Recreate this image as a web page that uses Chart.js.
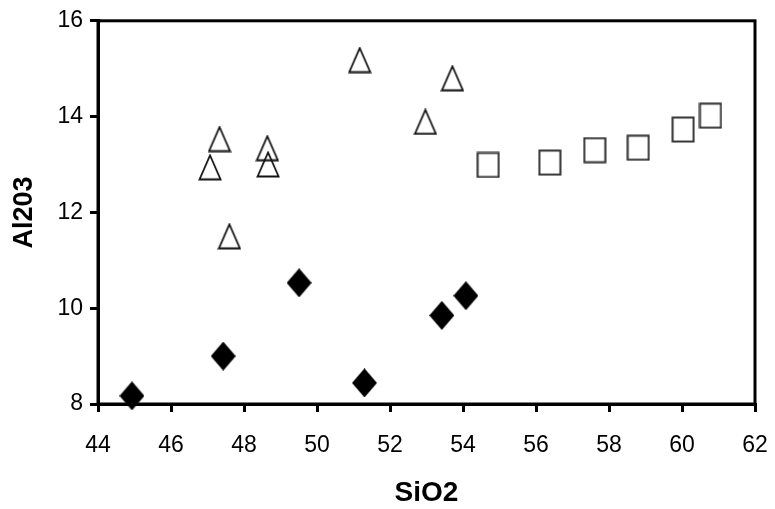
<!DOCTYPE html>
<html>
<head>
<meta charset="utf-8">
<title>SiO2 vs Al203</title>
<script src="https://cdn.jsdelivr.net/npm/chart.js@4/dist/chart.umd.min.js"></script>
<style>
    html, body { margin: 0; padding: 0; background: #fff; }
    #chart-wrap { width: 775px; height: 509px; }
</style>
</head>
<body>
<div id="chart-wrap">
    <canvas id="scatter-chart" width="775" height="509"></canvas>
</div>
<script>
// Chart data (SiO2, Al203)
const triangleSiO2 = [51.17, 52.97, 47.33, 47.07, 48.64, 48.66, 47.6, 53.71];
const triangleAl2O3 = [15.18, 13.89, 13.53, 12.94, 13.34, 13.0, 11.5, 14.8];

const squareSiO2 = [54.69, 56.38, 57.61, 58.8, 60.03, 60.78];
const squareAl2O3 = [12.99, 13.04, 13.3, 13.35, 13.73, 14.02];

const diamondSiO2 = [44.93, 47.43, 49.51, 51.3, 53.42, 54.08];
const diamondAl2O3 = [8.17, 9.0, 10.53, 8.44, 9.85, 10.26];

// Tick labels
const xTicks = [44, 46, 48, 50, 52, 54, 56, 58, 60, 62];
const yTicks = [8, 10, 12, 14, 16];

const FONT = '"Liberation Sans", Arial, sans-serif';

// Build points from the value arrays
function toPoints(xs, ys) {
    return xs.map((x, i) => ({ x: x, y: ys[i] }));
}

// Marker images (Excel style: slightly taller than wide)
function makeMarker(w, h, drawFn) {
    const c = document.createElement('canvas');
    c.width = w;
    c.height = h;
    drawFn(c.getContext('2d'), w, h);
    return c;
}

const triangleMarker = makeMarker(24, 27, (ctx, w, h) => {
    ctx.strokeStyle = '#111';
    ctx.lineWidth = 1.8;
    ctx.beginPath();
    ctx.moveTo(w / 2, 1.5);
    ctx.lineTo(w - 1.5, h - 1.5);
    ctx.lineTo(1.5, h - 1.5);
    ctx.closePath();
    ctx.stroke();
});

const squareMarker = makeMarker(24, 27, (ctx, w, h) => {
    ctx.strokeStyle = '#333';
    ctx.lineWidth = 2;
    ctx.strokeRect(1.5, 1.5, w - 3, h - 3);
});

const diamondMarker = makeMarker(25, 29, (ctx, w, h) => {
    ctx.fillStyle = '#000';
    ctx.beginPath();
    ctx.moveTo(w / 2, 0);
    ctx.lineTo(w, h / 2);
    ctx.lineTo(w / 2, h);
    ctx.lineTo(0, h / 2);
    ctx.closePath();
    ctx.fill();
});

// Frame around the plot area
const framePlugin = {
    id: 'frame',
    beforeDatasetsDraw(chart) {
        const { ctx, chartArea: a } = chart;
        ctx.save();
        ctx.strokeStyle = '#000';
        ctx.lineWidth = 3;
        ctx.strokeRect(a.left, a.top, a.right - a.left, a.bottom - a.top);
        ctx.restore();
    }
};

function dataset(points, marker) {
    return {
        data: points,
        pointStyle: marker,
        pointRadius: 5,
        pointHoverRadius: 5,
        showLine: false,
        clip: false
    };
}

const ctx = document.getElementById('scatter-chart').getContext('2d');

new Chart(ctx, {
    type: 'scatter',
    data: {
        datasets: [
            dataset(toPoints(diamondSiO2, diamondAl2O3), diamondMarker),
            dataset(toPoints(triangleSiO2, triangleAl2O3), triangleMarker),
            dataset(toPoints(squareSiO2, squareAl2O3), squareMarker)
        ]
    },
    options: {
        responsive: false,
        animation: false,
        events: [],
        layout: { padding: { top: 19, right: 20, left: 0, bottom: 0 } },
        plugins: {
            legend: { display: false },
            tooltip: { enabled: false }
        },
        scales: {
            x: {
                type: 'linear',
                min: 44,
                max: 62,
                afterBuildTicks: scale => { scale.ticks = xTicks.map(v => ({ value: v })); },
                afterFit: scale => { scale.height = 105; },
                border: { display: true, color: '#000', width: 3 },
                grid: { drawOnChartArea: false, drawTicks: true, tickLength: 8, color: '#000', lineWidth: 3 },
                // tall line height pushes labels down without widening the right padding
                ticks: { color: '#000', padding: 5, maxRotation: 0, font: { family: FONT, size: 23, lineHeight: 2.5 } },
                title: {
                    display: true,
                    text: 'SiO2',
                    color: '#000',
                    font: { family: FONT, size: 28, weight: 'bold', lineHeight: 1 },
                    padding: { top: 0, bottom: 2 }
                }
            },
            y: {
                type: 'linear',
                min: 8,
                max: 16,
                afterBuildTicks: scale => { scale.ticks = yTicks.map(v => ({ value: v })); },
                afterFit: scale => { scale.width = 98; },
                border: { display: true, color: '#000', width: 3 },
                grid: { drawOnChartArea: false, drawTicks: true, tickLength: 8, color: '#000', lineWidth: 3 },
                ticks: { color: '#000', padding: 7, font: { family: FONT, size: 23 } },
                title: {
                    display: true,
                    text: 'Al203',
                    color: '#000',
                    font: { family: FONT, size: 27, weight: 'bold', lineHeight: 1 },
                    padding: { top: 11, bottom: 0 }
                }
            }
        }
    },
    plugins: [framePlugin]
});
</script>
</body>
</html>
